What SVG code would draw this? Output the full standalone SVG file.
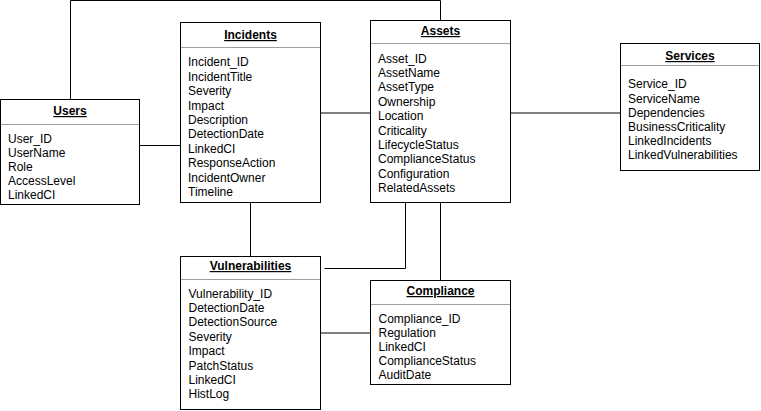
<svg xmlns="http://www.w3.org/2000/svg" width="761" height="411" viewBox="0 0 761 411">
<style>
text{font-family:"Liberation Sans",Arial,Helvetica,sans-serif;font-size:12px;fill:#000}
.t{font-weight:bold;text-anchor:middle;text-decoration:underline}
.box{fill:#fff;stroke:#000;stroke-width:1}
.sep{stroke:#a0a0a0;stroke-width:1}
.c{fill:none;stroke:#000;stroke-width:1}
</style>
<rect width="761" height="411" fill="#fff"/>
<g id="connectors">
<path class="c" d="M70.5 99.5V0.5H440.5V20.5"/>
<path class="c" d="M139.5 145.5H180.5"/>
<path class="c" d="M320.5 113H370.5"/>
<path class="c" d="M510.5 113H620.5"/>
<path class="c" d="M250.5 202.5V256.5"/>
<path class="c" d="M324.5 268.5H405.5V202.5"/>
<path class="c" d="M440.5 202.5V280.5"/>
<path class="c" d="M320.5 333H370.5"/>
</g>
<g id="users">
<rect class="box" x="0.5" y="99.5" width="139" height="105"/>
<line class="sep" x1="1" y1="124.5" x2="139" y2="124.5"/>
<text class="t" x="70" y="115">Users</text>
<text x="8" y="142.5">User_ID</text>
<text x="8" y="156.7">UserName</text>
<text x="8" y="170.9">Role</text>
<text x="8" y="185.1">AccessLevel</text>
<text x="8" y="199.3">LinkedCI</text>
</g>
<g id="incidents">
<rect class="box" x="180.5" y="22.5" width="140" height="180"/>
<line class="sep" x1="181" y1="47.5" x2="320" y2="47.5"/>
<text class="t" x="250.5" y="39">Incidents</text>
<text x="188" y="66.3">Incident_ID</text>
<text x="188" y="80.7">IncidentTitle</text>
<text x="188" y="95.1">Severity</text>
<text x="188" y="109.5">Impact</text>
<text x="188" y="123.9">Description</text>
<text x="188" y="138.3">DetectionDate</text>
<text x="188" y="152.7">LinkedCI</text>
<text x="188" y="167.1">ResponseAction</text>
<text x="188" y="181.5">IncidentOwner</text>
<text x="188" y="195.9">Timeline</text>
</g>
<g id="assets">
<rect class="box" x="370.5" y="20.5" width="140" height="182"/>
<line class="sep" x1="371" y1="43.5" x2="510" y2="43.5"/>
<text class="t" x="440.5" y="35">Assets</text>
<text x="378" y="62.6">Asset_ID</text>
<text x="378" y="77">AssetName</text>
<text x="378" y="91.4">AssetType</text>
<text x="378" y="105.8">Ownership</text>
<text x="378" y="120.2">Location</text>
<text x="378" y="134.6">Criticality</text>
<text x="378" y="149">LifecycleStatus</text>
<text x="378" y="163.4">ComplianceStatus</text>
<text x="378" y="177.8">Configuration</text>
<text x="378" y="192.2">RelatedAssets</text>
</g>
<g id="services">
<rect class="box" x="620.5" y="43.5" width="139" height="127"/>
<line class="sep" x1="621" y1="65.5" x2="759" y2="65.5"/>
<text class="t" x="690" y="60">Services</text>
<text x="628" y="88.3">Service_ID</text>
<text x="628" y="102.5">ServiceName</text>
<text x="628" y="116.7">Dependencies</text>
<text x="628" y="130.9">BusinessCriticality</text>
<text x="628" y="145.1">LinkedIncidents</text>
<text x="628" y="159.3">LinkedVulnerabilities</text>
</g>
<g id="vulnerabilities">
<rect class="box" x="180.5" y="256.5" width="140" height="153"/>
<line class="sep" x1="181" y1="279.5" x2="320" y2="279.5"/>
<text class="t" x="250.5" y="270">Vulnerabilities</text>
<text x="188.5" y="297.6">Vulnerability_ID</text>
<text x="188.5" y="312">DetectionDate</text>
<text x="188.5" y="326.4">DetectionSource</text>
<text x="188.5" y="340.8">Severity</text>
<text x="188.5" y="355.2">Impact</text>
<text x="188.5" y="369.6">PatchStatus</text>
<text x="188.5" y="384">LinkedCI</text>
<text x="188.5" y="398.4">HistLog</text>
</g>
<g id="compliance">
<rect class="box" x="370.5" y="280.5" width="140" height="104"/>
<line class="sep" x1="371" y1="304.5" x2="510" y2="304.5"/>
<text class="t" x="440.5" y="295">Compliance</text>
<text x="378.5" y="322.6">Compliance_ID</text>
<text x="378.5" y="336.8">Regulation</text>
<text x="378.5" y="351">LinkedCI</text>
<text x="378.5" y="365.2">ComplianceStatus</text>
<text x="378.5" y="379.4">AuditDate</text>
</g>
</svg>
